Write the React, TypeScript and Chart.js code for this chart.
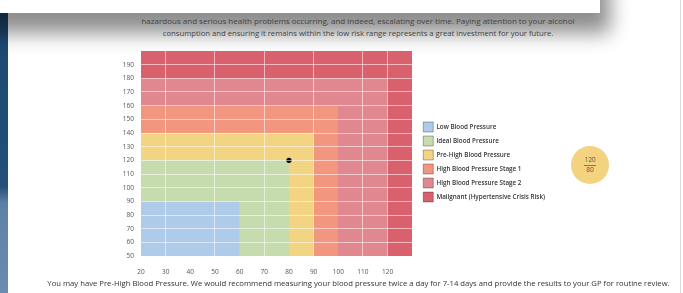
import React, { useEffect, useRef } from "react";
import { Chart, registerables } from "chart.js";

Chart.register(...registerables);

// ---- Data ----
const zoneNames = [
  "Low Blood Pressure",
  "Ideal Blood Pressure",
  "Pre-High Blood Pressure",
  "High Blood Pressure Stage 1",
  "High Blood Pressure Stage 2",
  "Malignant (Hypertensive Crisis Risk)",
];
const zoneDiastolicMax = [60, 80, 90, 100, 120, 130];
const zoneSystolicMax = [90, 120, 140, 160, 180, 200];
const diastolicStart = [20, 20, 20, 20, 20, 20];
const zoneColors = ["#afcbea", "#c6dcae", "#f3d483", "#f2967f", "#e0878f", "#d9616e"];

const readingSystolic = [120];
const readingDiastolic = [80];

const xAxisMin = 20;
const xAxisMax = 130;
const xLabelMax = 120;
const yAxisMin = 50;
const yAxisMax = 200;
const yLabelMax = 190;
const axisStep = 10;
const xGridShown = [30, 50, 70, 90, 110, 120];

const topText1 =
  "hazardous and serious health problems occurring, and indeed, escalating over time. Paying attention to your alcohol";
const topText2 =
  "consumption and ensuring it remains within the low risk range represents a great investment for your future.";
const bottomText =
  "You may have Pre-High Blood Pressure. We would recommend measuring your blood pressure twice a day for 7-14 days and provide the results to your GP for routine review.";

const FONT = "'Open Sans', 'Noto Sans', sans-serif";
const GRID_WHITE = "rgba(255,255,255,0.55)";
const CLEAR = "rgba(0,0,0,0)";

function BPChart() {
  const ref = useRef<HTMLCanvasElement>(null);
  useEffect(() => {
    if (!ref.current) return;
    const datasets: any[] = [
      {
        label: "Reading",
        data: readingDiastolic.map((x, i) => ({ x, y: readingSystolic[i] })),
        showLine: false,
        pointRadius: 2.6,
        pointBackgroundColor: "#000",
        pointBorderWidth: 0,
        xAxisID: "x",
        yAxisID: "y",
        order: 0,
      },
      ...zoneNames.map((name, i) => ({
        label: name,
        data: [
          { x: diastolicStart[i], y: zoneSystolicMax[i] },
          { x: zoneDiastolicMax[i], y: zoneSystolicMax[i] },
        ],
        backgroundColor: zoneColors[i],
        borderColor: zoneColors[i],
        borderWidth: 0,
        pointRadius: 0,
        fill: "start",
        tension: 0,
        xAxisID: "x",
        yAxisID: "y",
        order: i + 1,
      })),
    ];
    const tickFont = { family: FONT, size: 6.5 };
    const chart = new Chart(ref.current, {
      type: "line",
      data: { datasets },
      options: {
        animation: false,
        responsive: false,
        events: [],
        layout: { padding: { top: 3, right: 45, bottom: 9, left: 0 } },
        plugins: {
          tooltip: { enabled: false },
          legend: {
            position: "right",
            align: "center",
            maxWidth: 220,
            labels: {
              boxWidth: 10,
              boxHeight: 10,
              padding: 4,
              color: "#333",
              font: { family: FONT, size: 6.3, weight: "600" },
              generateLabels: () =>
                zoneNames.map((n, i) => ({
                  text: n,
                  fillStyle: zoneColors[i],
                  strokeStyle: "rgba(0,0,0,0.3)",
                  lineWidth: 1,
                  hidden: false,
                  datasetIndex: i + 1,
                  fontColor: "#333",
                })),
            },
          },
        },
        scales: {
          x: {
            type: "linear",
            position: "bottom",
            min: xAxisMin,
            max: xAxisMax,
            afterFit: (s: any) => {
              s.height = 25;
            },
            ticks: {
              stepSize: axisStep,
              padding: 12,
              color: "#555",
              font: tickFont,
              maxRotation: 0,
              callback: (v: any) => (v <= xLabelMax ? String(v) : ""),
            },
            grid: {
              z: 1,
              drawTicks: false,
              color: (ctx: any) =>
                ctx.tick && xGridShown.includes(ctx.tick.value) ? GRID_WHITE : CLEAR,
            },
            border: { display: false },
          },
          xTop: {
            type: "linear",
            position: "top",
            display: true,
            afterFit: (s: any) => {
              s.height = 8;
            },
            grid: { display: false, drawTicks: false },
            ticks: { display: false },
            border: { display: false },
          },
          y: {
            type: "linear",
            position: "left",
            min: yAxisMin,
            max: yAxisMax,
            afterFit: (s: any) => {
              s.width = 41;
            },
            ticks: {
              stepSize: axisStep,
              padding: 7,
              color: "#555",
              font: tickFont,
              callback: (v: any) => (v <= yLabelMax ? String(v) : ""),
            },
            grid: {
              z: 1,
              drawTicks: false,
              color: (ctx: any) =>
                ctx.tick && ctx.tick.value > yAxisMin && ctx.tick.value < yAxisMax
                  ? GRID_WHITE
                  : CLEAR,
            },
            border: { display: false },
          },
          gap: {
            type: "linear",
            position: "right",
            display: true,
            afterFit: (s: any) => {
              s.width = 7;
            },
            grid: { display: false, drawTicks: false },
            ticks: { display: false },
            border: { display: false },
          },
        },
      } as any,
    });
    return () => chart.destroy();
  }, []);
  return (
    <canvas
      ref={ref}
      width={500}
      height={250}
      style={{ position: "absolute", left: 100, top: 40, width: 500, height: 250 }}
    />
  );
}

export default function App() {
  return (
    <div
      style={{
        position: "absolute",
        left: 0,
        top: 0,
        width: 683,
        height: 293,
        overflow: "hidden",
        background: "#fff",
        fontFamily: FONT,
      }}
    >
      {/* left blue bar */}
      <div
        style={{
          position: "absolute",
          left: 0,
          top: 12,
          width: 8,
          height: 281,
          background: "linear-gradient(180deg, #1c4870 0%, #22507a 62%, #5d80a6 68%, #6a8cb0 100%)",
        }}
      />
      {/* right thin line */}
      <div style={{ position: "absolute", left: 680, top: 0, width: 1, height: 293, background: "#dcdcdc" }} />
      {/* top card with shadow */}
      <div
        style={{
          position: "absolute",
          left: -10,
          top: -20,
          width: 610,
          height: 33,
          background: "#fff",
          boxShadow: "0 10px 20px 10px rgba(0,0,0,0.45)",
        }}
      />
      <div
        style={{
          position: "absolute",
          left: 58,
          width: 600,
          top: 14,
          textAlign: "center",
          lineHeight: "13px",
          color: "#444",
          whiteSpace: "nowrap",
        }}
      >
        <div style={{ fontSize: 8.0 }}>{topText1}</div>
        <div style={{ fontSize: 7.7 }}>{topText2}</div>
      </div>
      <BPChart />
      {/* reading badge */}
      <div
        style={{
          position: "absolute",
          left: 571,
          top: 146,
          width: 38,
          height: 38,
          borderRadius: "50%",
          background: "#f3d37f",
          color: "#555",
          fontSize: 6.5,
          display: "flex",
          flexDirection: "column",
          alignItems: "center",
          justifyContent: "center",
          lineHeight: "8px",
        }}
      >
        <div>{readingSystolic[0]}</div>
        <div style={{ width: 12, height: 1, background: "#777", margin: "0.5px 0 0.5px" }} />
        <div>{readingDiastolic[0]}</div>
      </div>
      <div
        style={{
          position: "absolute",
          left: 0,
          width: 717,
          top: 277,
          textAlign: "center",
          fontSize: 7.7,
          lineHeight: "12px",
          color: "#333",
          whiteSpace: "nowrap",
        }}
      >
        {bottomText}
      </div>
    </div>
  );
}
